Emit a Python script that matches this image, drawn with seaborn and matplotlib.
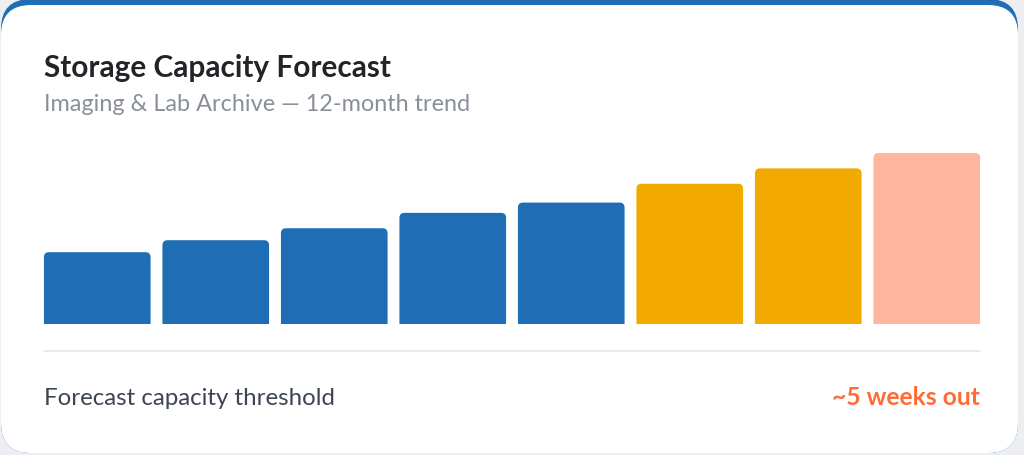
import matplotlib
matplotlib.use("Agg")
import matplotlib.pyplot as plt
from matplotlib.patches import FancyBboxPatch
import seaborn as sns
import pandas as pd

# Chart data (percent of archive capacity used)
months = ["M1", "M2", "M3", "M4", "M5", "M6", "M7", "M8"]
usage = [42, 49, 56, 65, 71, 82, 91, 100]
status = ["actual", "actual", "actual", "actual", "actual", "forecast", "forecast", "critical"]

title = "Storage Capacity Forecast"
subtitle = "Imaging & Lab Archive \u2014 12-month trend"
footer_left = "Forecast capacity threshold"
footer_right = "~5 weeks out"

palette = {"actual": "#1e6db5", "forecast": "#f2aa00", "critical": "#ffb59e"}

df = pd.DataFrame({"month": months, "usage": usage, "status": status})

sns.set_theme(style="white")
plt.rcParams["font.family"] = ["Lato", "DejaVu Sans"]

W, H = 1024, 456
fig = plt.figure(figsize=(W / 100, H / 100), dpi=100, facecolor="#eceef2")

# background axes in pixel units for the card
bg = fig.add_axes([0, 0, 1, 1])
bg.set_xlim(0, W)
bg.set_ylim(H, 0)
bg.axis("off")
bg.patch.set_alpha(0)

card_blue = FancyBboxPatch((1, 0), 1017, 454, boxstyle="round,pad=0,rounding_size=30",
                           facecolor="#1e6db5", edgecolor="none")
card = FancyBboxPatch((1, 6), 1017, 448, boxstyle="round,pad=0,rounding_size=30",
                      facecolor="white", edgecolor="none")
bg.add_patch(card_blue)
bg.add_patch(card)
bg.plot([44, 980], [352, 352], color="#e6e8ed", linewidth=1.2)

bg.text(44, 77, title, fontsize=21.4, fontweight="bold", color="#222428", va="baseline")
bg.text(44, 111, subtitle, fontsize=16.9, color="#8a9099", va="baseline")
bg.text(44, 405, footer_left, fontsize=17.3, color="#3d4452", va="baseline")
bg.text(980, 405, footer_right, fontsize=17.7, fontweight="bold", color="#ff6b35",
        va="baseline", ha="right")

# bar axes
ax = fig.add_axes([38 / W, 1 - 325 / H, 948 / W, 171 / H])
sns.barplot(data=df, x="month", y="usage", hue="status", palette=palette,
            dodge=False, legend=False, width=0.9, saturation=1, ax=ax)
ax.set_xlim(-0.5, 7.5)
ax.set_ylim(0, 100)
ax.axis("off")
ax.patch.set_alpha(0)

# swap plain bars for ones with rounded tops
r_px = 5
x_per_px = 8 / 948
y_per_px = 100 / 171
for p in list(ax.patches):
    x0, w, h = p.get_x(), p.get_width(), p.get_height()
    fc = p.get_facecolor()
    p.remove()
    rb = FancyBboxPatch((x0, -10), w, h + 10,
                        boxstyle=f"round,pad=0,rounding_size={r_px * x_per_px}",
                        mutation_aspect=y_per_px / x_per_px,
                        facecolor=fc, edgecolor="none")
    ax.add_patch(rb)
    rb.set_clip_path(ax.patch)

fig.savefig("out.png", dpi=100, facecolor=fig.get_facecolor())
